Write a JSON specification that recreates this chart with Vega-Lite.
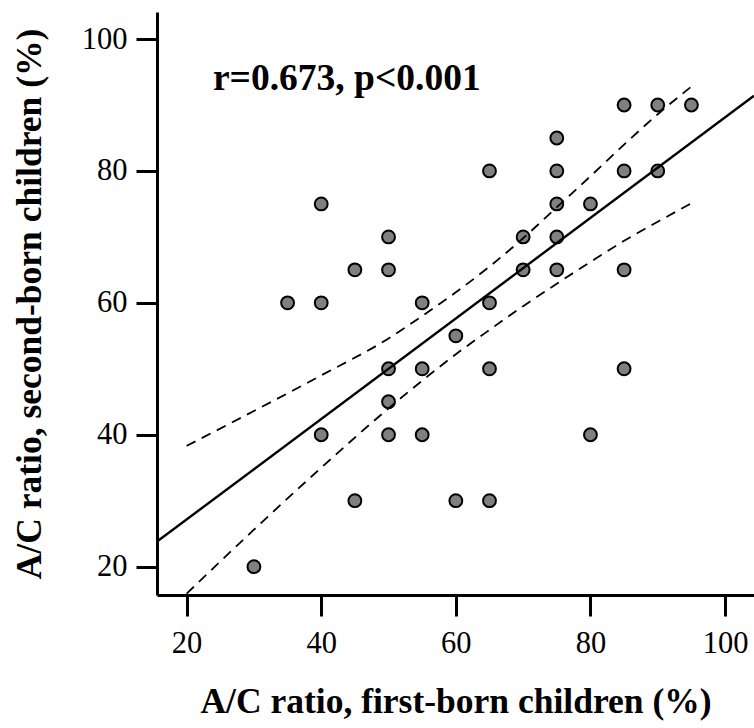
{
  "$schema": "https://vega.github.io/schema/vega-lite/v6.json",
  "width": 597,
  "height": 583,
  "autosize": "none",
  "padding": {"left": 157, "top": 12, "right": 0, "bottom": 133},
  "background": "white",
  "config": {
    "view": {"stroke": null},
    "font": "Liberation Serif",
    "axis": {
      "grid": false,
      "domainColor": "black",
      "domainWidth": 3,
      "tickColor": "black",
      "tickWidth": 3,
      "tickSize": 21,
      "labelFont": "Liberation Serif",
      "labelFontSize": 30.5,
      "labelColor": "black",
      "labelPadding": 9,
      "titleFont": "Liberation Serif",
      "titleFontSize": 35.5,
      "titleFontWeight": "bold",
      "titleColor": "black"
    }
  },
  "datasets": {
    "points": [
      {"first": 30, "second": 20}, {"first": 35, "second": 60}, {"first": 40, "second": 75},
      {"first": 40, "second": 60}, {"first": 40, "second": 40}, {"first": 45, "second": 65},
      {"first": 45, "second": 30}, {"first": 50, "second": 70}, {"first": 50, "second": 65},
      {"first": 50, "second": 50}, {"first": 50, "second": 45}, {"first": 50, "second": 40},
      {"first": 55, "second": 60}, {"first": 55, "second": 50}, {"first": 55, "second": 40},
      {"first": 60, "second": 55}, {"first": 60, "second": 30}, {"first": 65, "second": 80},
      {"first": 65, "second": 60}, {"first": 65, "second": 50}, {"first": 65, "second": 30},
      {"first": 70, "second": 70}, {"first": 70, "second": 65}, {"first": 75, "second": 85},
      {"first": 75, "second": 80}, {"first": 75, "second": 75}, {"first": 75, "second": 70},
      {"first": 75, "second": 65}, {"first": 80, "second": 75}, {"first": 80, "second": 40},
      {"first": 85, "second": 90}, {"first": 85, "second": 80}, {"first": 85, "second": 65},
      {"first": 85, "second": 50}, {"first": 90, "second": 90}, {"first": 90, "second": 80},
      {"first": 95, "second": 90}
    ],
    "fit": [
      {"first": 15.6, "second": 23.8},
      {"first": 104.3, "second": 91.4}
    ],
    "bands": [
      {"band": "upper", "first": 20, "second": 38.3},
      {"band": "upper", "first": 30, "second": 43.6},
      {"band": "upper", "first": 40, "second": 49.0},
      {"band": "upper", "first": 50, "second": 54.6},
      {"band": "upper", "first": 55, "second": 58.0},
      {"band": "upper", "first": 60, "second": 61.6},
      {"band": "upper", "first": 65, "second": 65.5},
      {"band": "upper", "first": 70, "second": 69.8},
      {"band": "upper", "first": 75, "second": 74.5},
      {"band": "upper", "first": 80, "second": 79.2},
      {"band": "upper", "first": 85, "second": 84.0},
      {"band": "upper", "first": 90, "second": 88.6},
      {"band": "upper", "first": 95, "second": 92.8},
      {"band": "lower", "first": 20, "second": 15.9},
      {"band": "lower", "first": 30, "second": 25.6},
      {"band": "lower", "first": 40, "second": 35.0},
      {"band": "lower", "first": 50, "second": 44.0},
      {"band": "lower", "first": 55, "second": 48.2},
      {"band": "lower", "first": 60, "second": 52.2},
      {"band": "lower", "first": 65, "second": 55.9},
      {"band": "lower", "first": 70, "second": 59.5},
      {"band": "lower", "first": 75, "second": 62.9},
      {"band": "lower", "first": 80, "second": 66.2},
      {"band": "lower", "first": 85, "second": 69.4},
      {"band": "lower", "first": 90, "second": 72.3},
      {"band": "lower", "first": 95, "second": 75.1}
    ],
    "note": [
      {"first": 43.8, "second": 92.2, "label": "r=0.673, p<0.001"}
    ]
  },
  "layer": [
    {
      "data": {"name": "points"},
      "mark": {"type": "point", "shape": "circle", "filled": true, "fill": "#808080", "stroke": "black", "strokeWidth": 2, "size": 165, "opacity": 1, "clip": true},
      "encoding": {
        "x": {
          "field": "first", "type": "quantitative",
          "scale": {"domain": [15.6, 104.3], "nice": false, "zero": false},
          "axis": {"values": [20, 40, 60, 80, 100], "title": "A/C ratio, first-born children (%)", "titlePadding": 26, "labelPadding": 12}
        },
        "y": {
          "field": "second", "type": "quantitative",
          "scale": {"domain": [15.7, 104.1], "nice": false, "zero": false},
          "axis": {"values": [20, 40, 60, 80, 100], "title": "A/C ratio, second-born children (%)", "titlePadding": 34}
        }
      }
    },
    {
      "data": {"name": "fit"},
      "mark": {"type": "line", "color": "black", "strokeWidth": 2.4, "clip": true},
      "encoding": {
        "x": {"field": "first", "type": "quantitative"},
        "y": {"field": "second", "type": "quantitative"}
      }
    },
    {
      "data": {"name": "bands"},
      "mark": {"type": "line", "color": "black", "strokeWidth": 1.8, "strokeDash": [10, 7], "interpolate": "monotone", "clip": true},
      "encoding": {
        "x": {"field": "first", "type": "quantitative"},
        "y": {"field": "second", "type": "quantitative"},
        "detail": {"field": "band"}
      }
    },
    {
      "data": {"name": "note"},
      "mark": {"type": "text", "font": "Liberation Serif", "fontWeight": "bold", "fontSize": 37.5, "align": "center", "baseline": "alphabetic", "color": "black"},
      "encoding": {
        "x": {"field": "first", "type": "quantitative"},
        "y": {"field": "second", "type": "quantitative"},
        "text": {"field": "label"}
      }
    }
  ]
}
